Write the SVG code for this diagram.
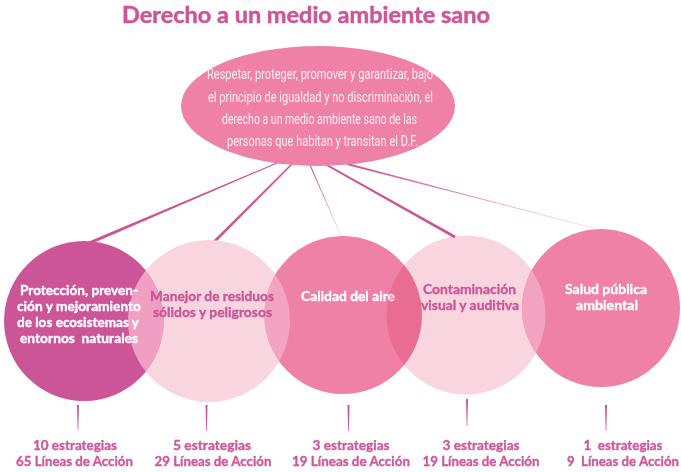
<svg xmlns="http://www.w3.org/2000/svg" width="681" height="472" viewBox="0 0 681 472">
<style>
.lb{font-family:Lato,"Open Sans","Liberation Sans",sans-serif;font-weight:700;font-size:13.5px;text-anchor:middle;stroke-width:0.35px}
.w{fill:#ffffff;stroke:#ffffff}
.mg{fill:#cc5597;stroke:#cc5597}
.el{font-family:Roboto,"Liberation Sans",sans-serif;font-size:14px;fill:#fdeef3;text-anchor:middle}
.cn{fill:#cc5597}
.dark{fill:#cc5597}
.pink{fill:#ef81a7}
.light{fill:#f9d6df}
.cnt{font-family:Lato,"Open Sans","Liberation Sans",sans-serif;font-weight:700;font-size:13.5px;text-anchor:middle;fill:#cf589b;stroke:#cf589b;stroke-width:0.35px}
.title{font-family:Lato,"Open Sans","Liberation Sans",sans-serif;font-weight:700;font-size:23px;text-anchor:middle;fill:#cd5598;stroke:#cd5598;stroke-width:0.5px}
</style>
<defs>
<clipPath id="cp1"><circle cx="84" cy="321" r="80"/></clipPath>
<clipPath id="cp3"><circle cx="343" cy="315" r="79"/></clipPath>
<clipPath id="cp5"><circle cx="601" cy="308" r="79"/></clipPath>
<mask id="m2" maskUnits="userSpaceOnUse" x="0" y="0" width="681" height="472">
<rect x="0" y="0" width="681" height="472" fill="#fff"/>
<circle cx="84" cy="321" r="80" fill="#000"/>
<circle cx="343" cy="315" r="79" fill="#000"/>
</mask>
<linearGradient id="g3" gradientUnits="userSpaceOnUse" x1="310" y1="165" x2="342" y2="238"><stop offset="0" stop-color="#cc5597"/><stop offset="1" stop-color="#f3bfd2"/></linearGradient>
<linearGradient id="g5" gradientUnits="userSpaceOnUse" x1="347" y1="164" x2="597" y2="229"><stop offset="0" stop-color="#cc5597"/><stop offset="1" stop-color="#f7d0dd"/></linearGradient>
</defs>
<rect x="0" y="0" width="681" height="472" fill="#ffffff"/>

<text class="title" x="306" y="23" textLength="368" lengthAdjust="spacingAndGlyphs">Derecho a un medio ambiente sano</text>

<g id="connectors">
<polygon class="cn" points="277.2,163.46 87.59,245.38 86.41,242.62 276.8,162.54"/>
<polygon class="cn" points="292.53,164.53 213.06,245.06 210.94,242.94 291.47,163.47"/>
<polygon fill="url(#g3)" points="309.45,165.24 341.82,238.08 342.18,237.92 310.55,164.76"/>
<polygon class="cn" points="324.51,164.87 454.27,238.31 455.74,235.69 325.49,163.13"/>
<polygon fill="url(#g5)" points="346.75,164.97 596.96,229.15 597.04,228.85 347.25,163.03"/>
<polygon class="cn" points="77,405 79,405 78.3,430 77.7,430"/>
<polygon class="cn" points="205.5,405 207.5,405 206.8,431 206.2,431"/>
<polygon class="cn" points="347.5,405 349.5,405 348.8,431 348.2,431"/>
<polygon class="cn" points="466,399 468,399 467.3,426 466.7,426"/>
<polygon class="cn" points="605,405 607,405 606.3,431 605.7,431"/>
</g>

<g id="node-derecho">
<ellipse cx="318" cy="106" rx="137" ry="60" class="pink"/>
<text class="el" x="320" y="79" textLength="226" lengthAdjust="spacingAndGlyphs">Respetar, proteger, promover y garantizar, bajo</text>
<text class="el" x="320.5" y="101.5" textLength="225" lengthAdjust="spacingAndGlyphs">el principio de igualdad y no discriminación, el</text>
<text class="el" x="319.5" y="124" textLength="195" lengthAdjust="spacingAndGlyphs">derecho a un medio ambiente sano de las</text>
<text class="el" x="322.5" y="146" textLength="191" lengthAdjust="spacingAndGlyphs">personas que habitan y transitan el D.F.</text>
</g>

<g id="node-proteccion">
<circle cx="84" cy="321" r="80" class="dark"/>
<circle cx="209" cy="321" r="81" fill="#f09fc3" clip-path="url(#cp1)"/>
<text class="lb w" x="79" y="295" textLength="118" lengthAdjust="spacingAndGlyphs">Protección, preven-</text>
<text class="lb w" x="79" y="311" textLength="124" lengthAdjust="spacingAndGlyphs">ción y mejoramiento</text>
<text class="lb w" x="78" y="327" textLength="122" lengthAdjust="spacingAndGlyphs">de los ecosistemas y</text>
<text class="lb w" x="79" y="343" textLength="118" lengthAdjust="spacingAndGlyphs" xml:space="preserve">entornos  naturales</text>
</g>

<g id="node-calidad">
<circle cx="343" cy="315" r="79" class="pink"/>
<circle cx="209" cy="321" r="81" fill="#f2a3c0" clip-path="url(#cp3)"/>
<text class="lb w" x="348" y="301" textLength="94" lengthAdjust="spacingAndGlyphs">Calidad del aire</text>
</g>

<g id="node-residuos">
<circle cx="209" cy="321" r="81" class="light" mask="url(#m2)"/>
<text class="lb mg" x="212" y="301" textLength="124" lengthAdjust="spacingAndGlyphs">Manejor de residuos</text>
<text class="lb mg" x="212.5" y="317" textLength="119" lengthAdjust="spacingAndGlyphs">sólidos y peligrosos</text>
</g>

<g id="node-contaminacion">
<circle cx="466" cy="315" r="79.5" class="light" style="mix-blend-mode:multiply"/>
<text class="lb mg" x="469.5" y="294" textLength="93" lengthAdjust="spacingAndGlyphs">Contaminación</text>
<text class="lb mg" x="470" y="310" textLength="98" lengthAdjust="spacingAndGlyphs">visual y auditiva</text>
</g>

<g id="node-salud">
<circle cx="601" cy="308" r="79" class="pink"/>
<circle cx="466" cy="315" r="79.5" fill="#f2a3c0" clip-path="url(#cp5)"/>
<text class="lb w" x="606" y="294" textLength="82" lengthAdjust="spacingAndGlyphs">Salud pública</text>
<text class="lb w" x="607" y="310" textLength="62" lengthAdjust="spacingAndGlyphs">ambiental</text>
</g>

<g id="count-proteccion">
<text class="cnt" x="75" y="450" textLength="84" lengthAdjust="spacingAndGlyphs">10 estrategias</text>
<text class="cnt" x="74.5" y="466" textLength="117" lengthAdjust="spacingAndGlyphs">65 Líneas de Acción</text>
</g>
<g id="count-residuos">
<text class="cnt" x="212" y="450" textLength="78" lengthAdjust="spacingAndGlyphs">5 estrategias</text>
<text class="cnt" x="213" y="466" textLength="117" lengthAdjust="spacingAndGlyphs">29 Líneas de Acción</text>
</g>
<g id="count-calidad">
<text class="cnt" x="351" y="450" textLength="77" lengthAdjust="spacingAndGlyphs">3 estrategias</text>
<text class="cnt" x="351" y="466" textLength="118" lengthAdjust="spacingAndGlyphs">19 Líneas de Acción</text>
</g>
<g id="count-contaminacion">
<text class="cnt" x="481" y="450" textLength="77" lengthAdjust="spacingAndGlyphs">3 estrategias</text>
<text class="cnt" x="481" y="466" textLength="117" lengthAdjust="spacingAndGlyphs">19 Líneas de Acción</text>
</g>
<g id="count-salud">
<text class="cnt" x="623" y="450" textLength="79" lengthAdjust="spacingAndGlyphs" xml:space="preserve">1  estrategias</text>
<text class="cnt" x="623" y="466" textLength="112" lengthAdjust="spacingAndGlyphs" xml:space="preserve">9  Líneas de Acción</text>
</g>
</svg>
